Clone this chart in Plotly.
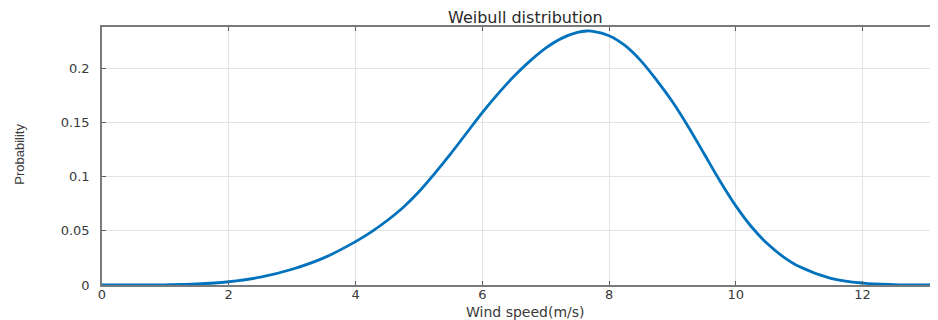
import plotly.graph_objects as go

# Values
wind_speed = [0.0, 0.5, 1.0, 1.5, 2.0, 2.5, 3.0, 3.5, 4.0, 4.25, 4.5, 4.75, 5.0,
              5.25, 5.5, 5.75, 6.0, 6.25, 6.5, 6.75, 7.0, 7.25, 7.5, 7.65, 7.75,
              8.0, 8.25, 8.5, 8.75, 9.0, 9.25, 9.5, 9.75, 10.0, 10.25, 10.5,
              10.75, 11.0, 11.5, 12.0, 12.5, 13.0, 13.2]
probability = [0.0, 0.0, 0.0002, 0.0009, 0.0030, 0.0072, 0.0145, 0.0250, 0.0400,
               0.0490, 0.0595, 0.0715, 0.0860, 0.1030, 0.1210, 0.1400, 0.1590,
               0.1765, 0.1925, 0.2065, 0.2185, 0.2275, 0.2330, 0.2343, 0.2340,
               0.2300, 0.2210, 0.2070, 0.1890, 0.1690, 0.1460, 0.1210, 0.0960,
               0.0730, 0.0535, 0.0380, 0.0260, 0.0170, 0.0062, 0.0018, 0.0004,
               0.0, 0.0]

x_ticks = [0, 2, 4, 6, 8, 10, 12]
y_ticks = [0, 0.05, 0.1, 0.15, 0.2]
y_tick_text = ["0", "0.05", "0.1", "0.15", "0.2"]

FONT = "DejaVu Sans"
TXT = "#3a3a3a"

fig = go.Figure()
fig.add_trace(go.Scatter(
    x=wind_speed, y=probability, mode="lines",
    line=dict(color="#0072BD", width=2.8, shape="spline", smoothing=1.0),
    hoverinfo="skip", showlegend=False,
))

axis_common = dict(
    showgrid=True, gridcolor="#e3e3e3", gridwidth=1,
    showline=True, linecolor="#7a7a7a", linewidth=1.5, mirror="ticks",
    ticks="inside", ticklen=4, tickcolor="#5a5a5a", tickwidth=1,
    zeroline=False, automargin=False,
    tickfont=dict(family=FONT, size=13, color=TXT),
)

fig.update_xaxes(range=[0, 13.19], tickvals=x_ticks, ticklabelstandoff=-3,
                 **axis_common)
fig.update_yaxes(range=[0, 0.238], tickvals=y_ticks, ticktext=y_tick_text,
                 ticklabelstandoff=8, **axis_common)

# The page body adds an 8 px margin, so the figure is 8 px smaller each way.
fig.update_layout(
    width=930, height=312,
    margin=dict(l=94, r=0, t=19, b=35),
    paper_bgcolor="white", plot_bgcolor="white",
    font=dict(family=FONT, color=TXT),
    annotations=[
        dict(text="Weibull distribution", xref="paper", yref="paper",
             x=0.507, y=1.0, yshift=10, xanchor="center", yanchor="middle",
             showarrow=False, font=dict(family=FONT, size=16, color="#2a2a2a")),
        dict(text="Wind speed(m/s)", xref="paper", yref="paper",
             x=0.507, y=-0.097, yshift=-2, xanchor="center", yanchor="middle",
             showarrow=False, font=dict(family=FONT, size=14, color=TXT)),
        dict(text="Probability", xref="paper", yref="paper",
             x=-0.098, y=0.505, xanchor="center", yanchor="middle",
             textangle=-90, showarrow=False,
             font=dict(family="Liberation Sans Narrow, Liberation Sans", size=13, color=TXT)),
    ],
)

fig.write_html("out.html")
